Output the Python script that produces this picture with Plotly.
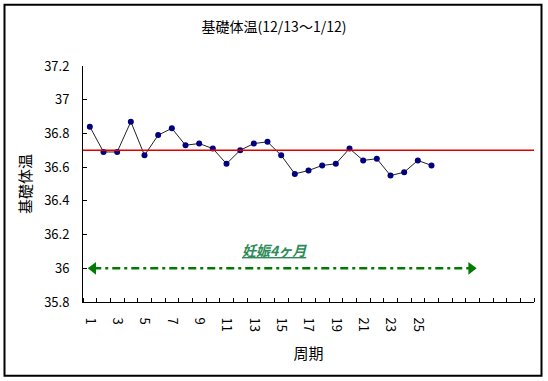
import plotly.graph_objects as go

# ---- data ----
days = list(range(1, 27))
temps = [36.84, 36.69, 36.69, 36.87, 36.67, 36.79, 36.83, 36.73, 36.74, 36.71,
         36.62, 36.70, 36.74, 36.75, 36.67, 36.56, 36.58, 36.61, 36.62, 36.71,
         36.64, 36.65, 36.55, 36.57, 36.64, 36.61]
n_categories = 33
tick_days = list(range(1, 26, 2))
tick_labels = [str(d) for d in tick_days]
reference_temp = 36.70
pregnancy_span = [1.25, 28.9]
pregnancy_level = 36.0
pregnancy_label = "妊娠4ヶ月"
pregnancy_label_pos = (14.5, 36.11)

W, H = 548, 381
ML, MR, MT, MB = 83, 14, 66, 78.5
FONT = "Noto Sans CJK JP"

fig = go.Figure()

fig.add_trace(go.Scatter(
    x=days, y=temps, mode="lines+markers",
    line=dict(color="#222222", width=1),
    marker=dict(color="#000080", size=6),
    showlegend=False, hoverinfo="x+y"))

fig.add_trace(go.Scatter(
    x=[0.5, n_categories + 0.5], y=[reference_temp, reference_temp], mode="lines",
    line=dict(color="#e00000", width=1.5), showlegend=False, hoverinfo="skip"))

fig.add_trace(go.Scatter(
    x=pregnancy_span, y=[pregnancy_level, pregnancy_level], mode="lines",
    line=dict(color="#007a00", width=2.5, dash="8px,4px,3px,4px"),
    showlegend=False, hoverinfo="skip"))
fig.add_trace(go.Scatter(
    x=pregnancy_span, y=[pregnancy_level, pregnancy_level], mode="markers",
    marker=dict(symbol=["triangle-left", "triangle-right"], size=11, color="#007a00"),
    showlegend=False, hoverinfo="skip"))

fig.add_annotation(
    x=pregnancy_label_pos[0], y=pregnancy_label_pos[1], xref="x", yref="y",
    text="<span style='text-decoration:underline'><b><i>" + pregnancy_label + "</i></b></span>",
    showarrow=False, font=dict(family=FONT, size=14, color="#2e8b57"))

pw = W - ML - MR
ph = H - MT - MB
fx0, fx1 = 4.5, 541.5
fy0, fy1 = 4.5, 376.5
fig.add_shape(type="rect", xref="paper", yref="paper",
              x0=(fx0 - ML) / pw, x1=(fx1 - ML) / pw,
              y0=-(fy1 - (H - MB)) / ph, y1=1 + (MT - fy0) / ph,
              line=dict(color="black", width=2), fillcolor="rgba(0,0,0,0)")

fig.update_layout(
    width=W, height=H,
    margin=dict(l=ML, r=MR, t=MT, b=MB, autoexpand=False),
    paper_bgcolor="white", plot_bgcolor="white",
    font=dict(family=FONT, color="black", size=13),
    title=dict(text="基礎体温(12/13～1/12)", x=0.5, xref="container",
               y=1 - 27 / H, yref="container", yanchor="middle", xanchor="center",
               font=dict(family=FONT, size=14, color="black")),
    xaxis=dict(
        range=[0.5, n_categories + 0.5], tickmode="array",
        tickvals=tick_days, ticktext=tick_labels, tickangle=90,
        ticks="outside", ticklen=12, tickcolor="rgba(0,0,0,0)",
        showline=True, linecolor="black", linewidth=1,
        showgrid=False, zeroline=False,
        tickfont=dict(family=FONT, size=13),
        minor=dict(tickvals=[i + 0.5 for i in range(0, n_categories + 1)],
                   ticks="inside", ticklen=4, tickcolor="black", tickwidth=1,
                   showgrid=False),
        title=dict(text="周期", font=dict(family=FONT, size=15), standoff=17)),
    yaxis=dict(
        range=[35.8, 37.2], dtick=0.2, tick0=35.8,
        ticks="inside", ticklen=4, tickcolor="black",
        showline=True, linecolor="black", linewidth=1,
        showgrid=False, zeroline=False, ticklabelstandoff=10,
        tickfont=dict(family=FONT, size=13),
        title=dict(text="基礎体温", font=dict(family=FONT, size=15), standoff=8)),
)

fig.write_html("out.html", config={"displayModeBar": False},
               post_script="document.body.style.margin='0px';document.body.style.overflow='hidden';")
